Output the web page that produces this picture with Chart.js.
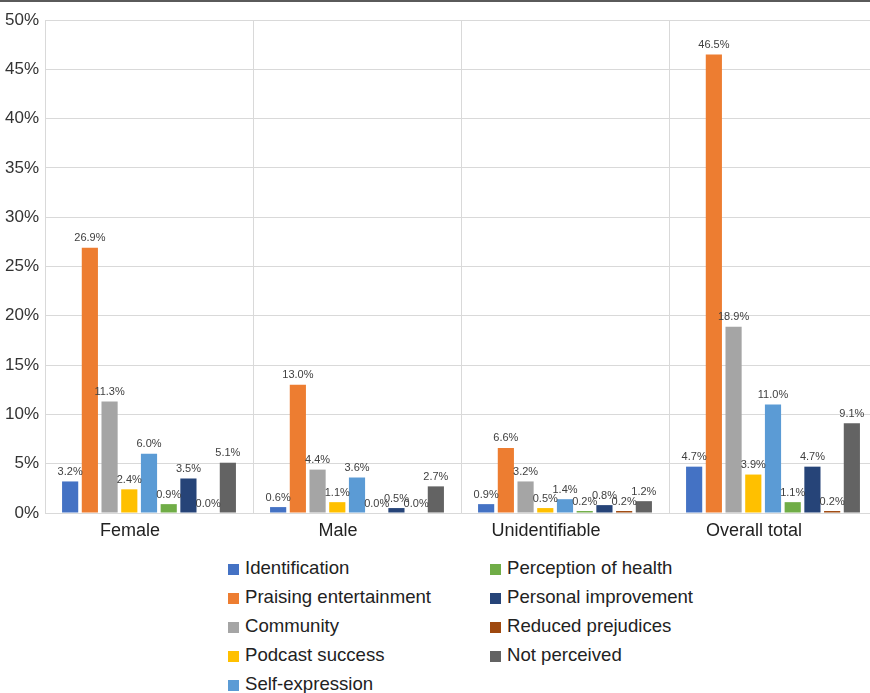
<!DOCTYPE html>
<html>
<head>
<meta charset="utf-8">
<script src="https://cdn.jsdelivr.net/npm/chart.js@4"></script>
<style>
  html, body { margin: 0; padding: 0; background: #fff; overflow: hidden; }
  body { width: 870px; height: 693px; position: relative; font-family: "Liberation Sans", Arial, sans-serif; }
  #topRule { position: absolute; left: 0; top: 0; width: 870px; height: 2px; background: #5a5a5a; }
  #wrap { position: absolute; left: 0; top: 0; width: 870px; height: 545px; overflow: hidden; }
  #wrap canvas { display: block; }
  .legendCol { position: absolute; top: 553px; }
  .legendItem { height: 29px; line-height: 29px; font-size: 18.6px; color: #222; white-space: nowrap; }
  .legendItem span.box { display: inline-block; width: 11px; height: 11px; margin-right: 6px; vertical-align: -1px; }
</style>
</head>
<body>
<div id="wrap"><canvas id="barChart" width="877" height="545"></canvas></div>
<div id="topRule"></div>
<div class="legendCol" id="legendCol1" style="left:228px"></div>
<div class="legendCol" id="legendCol2" style="left:490px"></div>
<script>
const categories = ['Female', 'Male', 'Unidentifiable', 'Overall total'];
const yTicks = [0, 5, 10, 15, 20, 25, 30, 35, 40, 45, 50];

const seriesNames = ['Identification', 'Praising entertainment', 'Community', 'Podcast success',
    'Self-expression', 'Perception of health', 'Personal improvement', 'Reduced prejudices', 'Not perceived'];
const seriesColors = ['#4472C4', '#ED7D31', '#A5A5A5', '#FFC000', '#5B9BD5', '#70AD47', '#264478', '#9E480E', '#636363'];

const identification = [3.2, 0.6, 0.9, 4.7];
const praisingEntertainment = [26.9, 13.0, 6.6, 46.5];
const community = [11.3, 4.4, 3.2, 18.9];
const podcastSuccess = [2.4, 1.1, 0.5, 3.9];
const selfExpression = [6.0, 3.6, 1.4, 11.0];
const perceptionOfHealth = [0.9, 0.0, 0.2, 1.1];
const personalImprovement = [3.5, 0.5, 0.8, 4.7];
const reducedPrejudices = [0.0, 0.0, 0.2, 0.2];
const notPerceived = [5.1, 2.7, 1.2, 9.1];

const seriesValues = [identification, praisingEntertainment, community, podcastSuccess,
    selfExpression, perceptionOfHealth, personalImprovement, reducedPrejudices, notPerceived];

// value labels above each bar
const barLabels = {
    id: 'barLabels',
    afterDatasetsDraw(chart) {
        const ctx = chart.ctx;
        ctx.save();
        ctx.font = '11px "Liberation Sans", Arial, sans-serif';
        ctx.fillStyle = '#404040';
        ctx.textAlign = 'center';
        ctx.textBaseline = 'bottom';
        chart.data.datasets.forEach((ds, di) => {
            const meta = chart.getDatasetMeta(di);
            meta.data.forEach((bar, i) => {
                ctx.fillText(ds.data[i].toFixed(1) + '%', bar.x, bar.y - 4);
            });
        });
        ctx.restore();
    }
};

const datasets = seriesNames.map((name, i) => ({
    label: name,
    data: seriesValues[i],
    backgroundColor: seriesColors[i],
    categoryPercentage: 0.853,
    barPercentage: 0.82
}));

new Chart(document.getElementById('barChart').getContext('2d'), {
    type: 'bar',
    data: { labels: categories, datasets: datasets },
    options: {
        responsive: false,
        animation: false,
        layout: { padding: { top: 20, right: 0, left: 0, bottom: 0 } },
        plugins: {
            legend: { display: false },
            tooltip: { enabled: false }
        },
        scales: {
            x: {
                grid: { color: '#d9d9d9', lineWidth: 1, drawTicks: false, offset: true },
                border: { color: '#d9d9d9' },
                ticks: {
                    color: '#222',
                    font: { size: 18, family: '"Liberation Sans", Arial, sans-serif' },
                    padding: 7,
                    labelOffset: -19
                },
                afterFit: scale => { scale.height = 32; }
            },
            y: {
                min: 0,
                max: 50,
                afterBuildTicks: scale => { scale.ticks = yTicks.map(v => ({ value: v })); },
                grid: { color: '#d9d9d9', lineWidth: 1, drawTicks: false },
                border: { color: '#d9d9d9' },
                ticks: {
                    color: '#333',
                    font: { size: 17, family: '"Liberation Sans", Arial, sans-serif' },
                    padding: 6,
                    callback: v => v + '%'
                },
                afterFit: scale => { scale.width = 45; }
            }
        }
    },
    plugins: [barLabels]
});

// legend laid out column by column, like the original
seriesNames.forEach((name, i) => {
    const col = document.getElementById(i < 5 ? 'legendCol1' : 'legendCol2');
    const item = document.createElement('div');
    item.className = 'legendItem';
    const box = document.createElement('span');
    box.className = 'box';
    box.style.background = seriesColors[i];
    item.appendChild(box);
    item.appendChild(document.createTextNode(name));
    col.appendChild(item);
});
</script>
</body>
</html>
